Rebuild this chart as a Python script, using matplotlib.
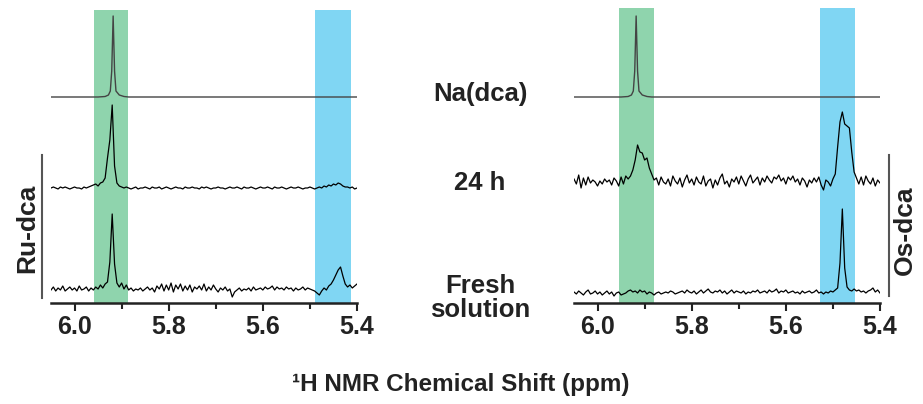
import numpy as np
import matplotlib
matplotlib.use("Agg")
import matplotlib.pyplot as plt
from matplotlib.lines import Line2D

plt.rcParams['font.family'] = ['Liberation Sans', 'DejaVu Sans']
plt.rcParams['font.weight'] = 'bold'

## data (intensities, arbitrary units)
# noisy spectra sampled from 6.05 to 5.40 ppm, 131 points
grid = np.linspace(6.05, 5.40, 131)

ru_fresh = [0, 3, -1, 2, 0, 4, -1, 1, 3, 0,
            2, -1, 4, 0, 1, 3, -1, 2, 0, 3,
            1, 5, 2, 6, 8, 28, 76, 26, 7, 3,
            7, 1, 5, 0, 2, -1, 1, 0, 2, -1,
            1, 3, 0, 2, -2, 4, 1, 6, -1, 5,
            0, 7, -2, 5, 1, 6, -1, 4, 0, 5,
            -2, 3, 1, 4, 0, 6, -1, 3, 0, 5,
            1, -2, 2, 0, 3, -1, 1, -7, -2, 0,
            2, -1, 1, 0, 2, -1, 3, 0, 1, 2,
            0, 3, 1, 2, 4, 0, 3, 1, 2, 0,
            3, 1, 2, -1, 2, 0, 1, 3, 0, 2,
            1, 0, -1, -3, -5, -1, 2, 0, 4, 6,
            10, 15, 20, 23, 14, 6, 3, 5, 2, 4,
            6]

ru_24h = [0, 1, 0, -1, 1, 0, 1, 0, -1, 0,
          1, 0, 0, -1, 1, 0, 1, 2, 3, 4,
          2, 5, 6, 10, 30, 48, 83, 22, 5, 2,
          1, 0, 1, 0, -1, 0, 1, -1, 0, 0,
          1, 0, -1, 1, 0, 0, 1, -1, 0, 1,
          0, -1, 0, 1, 0, 0, -1, 1, 0, 0,
          1, 0, 0, -1, 1, 0, 1, 0, -1, 0,
          0, 1, 0, 0, -1, 0, 1, 0, 0, 1,
          0, -1, 1, 0, 0, 1, 0, -1, 0, 1,
          0, 0, 1, 0, -1, 1, 0, 0, 1, 0,
          -1, 0, 1, 0, 0, 1, 0, -1, 0, 0,
          1, 0, -1, 0, 1, 0, 2, 1, 3, 2,
          4, 3, 5, 4, 2, 1, 1, 0, 1, -1,
          0]

os_24h = [3, -2, 7, -6, 4, -3, 5, -1, 2, 0,
          -4, 1, -2, 3, 0, 2, -3, 4, 1, -4,
          5, -2, 6, 3, 6, 12, 22, 37, 30, 29,
          22, 24, 14, 8, 2, 4, -3, 5, 0, -2,
          3, -4, 6, 1, -2, 4, -5, 2, 7, -1,
          3, -3, 5, 0, -2, 6, -4, 1, 3, -6,
          2, -3, 4, 8, -2, 1, -5, 3, 0, 5,
          -2, 6, 1, -4, 3, 7, -1, 2, 5, -3,
          4, 0, 6, 2, -1, 5, 3, 7, 1, 4,
          -2, 5, 2, 6, 0, 3, -3, 4, 1, -5,
          2, -1, 4, 0, 5, -3, -8, 2, 0, -4,
          3, 8, 35, 60, 70, 58, 56, 54, 30, 10,
          4, -2, 5, -3, 6, 1, -2, 4, -4, 2,
          -1]

os_fresh = [1, -1, 2, 0, -2, 1, 3, -1, 0, 2,
            -1, 1, -2, 0, 2, -1, 1, -3, 0, 1,
            -2, -1, 0, 2, 3, 1, 2, 0, 3, 1,
            2, -1, 1, 0, -2, 0, 1, -1, 0, 1,
            0, 2, 1, -1, 0, 1, 2, 0, 3, 1,
            0, 2, -1, 1, 3, 0, 2, 4, 1, 0,
            2, 1, 3, 0, 2, -1, 1, 3, 0, 2,
            1, 0, 2, -1, 1, 0, 2, 1, 3, 0,
            1, 2, 0, 3, 1, 2, 4, 0, 2, 1,
            3, 0, 1, 2, 0, 1, -1, 2, 0, 1,
            2, 0, 1, 3, 0, 1, -1, 1, 0, 2,
            1, 3, 5, 30, 84, 25, 6, 3, 2, 4,
            2, 3, 1, 2, 0, 2, 3, 5, 1, 3,
            0]

# Na(dca) reference: clean single line
na_ppm = [6.05, 5.95, 5.935, 5.928, 5.924, 5.921, 5.918, 5.915, 5.912, 5.905, 5.895, 5.885, 5.60, 5.40]
na_int = [0, 0, 0.5, 2, 6, 26, 81, 26, 6, 2, 0.5, 0, 0, 0]

# highlighted regions (ppm)
ru_green = (5.958, 5.886)
ru_blue = (5.489, 5.413)
os_green = (5.955, 5.881)
os_blue = (5.528, 5.453)

# stacking offsets
ru_offsets = {'na': 206, '24h': 115, 'fresh': 13}
os_offsets = {'na': 206, '24h': 121, 'fresh': 10}

green = '#8fd4ad'
blue = '#80d6f3'
ink = '#222222'

fig = plt.figure(figsize=(9.23, 4.04), dpi=100)
W, H = 923, 404

def panel(left_px, green_band, blue_band, fresh, h24, offs, band_top):
    ax = fig.add_axes([left_px / W, 101 / H, 306 / W, 295 / H])
    ax.axvspan(*green_band, ymax=band_top, color=green, lw=0, zorder=0)
    ax.axvspan(*blue_band, ymax=band_top, color=blue, lw=0, zorder=0)
    ax.plot(na_ppm, np.array(na_int) + offs['na'], color='#444444', lw=1.0)
    ax.plot(grid, np.array(h24) + offs['24h'], color='black', lw=0.9)
    ax.plot(grid, np.array(fresh) + offs['fresh'], color='black', lw=0.9)
    ax.set_xlim(6.05, 5.40)
    ax.set_ylim(0, 295)
    ax.set_yticks([])
    for s in ['top', 'left', 'right']:
        ax.spines[s].set_visible(False)
    ax.spines['bottom'].set_linewidth(1.8)
    ax.spines['bottom'].set_color(ink)
    ax.set_xticks([6.0, 5.8, 5.6, 5.4])
    ax.set_xticklabels(['6.0', '5.8', '5.6', '5.4'])
    ax.set_xticks([5.9, 5.7, 5.5], minor=True)
    ax.tick_params(axis='x', which='major', length=6, width=1.5, color=ink,
                   labelsize=18, pad=3, labelcolor=ink)
    ax.tick_params(axis='x', which='minor', length=4, width=1.5, color=ink)
    for t in ax.get_xticklabels():
        t.set_fontweight('bold')
    ax.patch.set_alpha(0)
    return ax

panel(51, ru_green, ru_blue, ru_fresh, ru_24h, ru_offsets, 0.993)
panel(574, os_green, os_blue, os_fresh, os_24h, os_offsets, 1.0)

# centre labels
fig.text(480 / W, 1 - 94 / H, 'Na(dca)', ha='center', va='center', fontsize=18.5, fontweight='bold', color=ink)
fig.text(480 / W, 1 - 183 / H, '24 h', ha='center', va='center', fontsize=18.5, fontweight='bold', color=ink)
fig.text(480 / W, 1 - 298 / H, 'Fresh\nsolution', ha='center', va='center', fontsize=18.5,
         fontweight='bold', color=ink, linespacing=1.05)

# side brackets
fig.add_artist(Line2D([42 / W, 42 / W], [1 - 155 / H, 1 - 298 / H], color='#555555', lw=1.5))
fig.add_artist(Line2D([889 / W, 889 / W], [1 - 155 / H, 1 - 296 / H], color='#555555', lw=1.5))
fig.text(27 / W, 1 - 228 / H, 'Ru-dca', rotation=90, ha='center', va='center', fontsize=19,
         fontweight='bold', color=ink)
fig.text(905 / W, 1 - 230 / H, 'Os-dca', rotation=90, ha='center', va='center', fontsize=19,
         fontweight='bold', color=ink)

fig.text(461 / W, 1 - 384 / H, '\u00b9H NMR Chemical Shift (ppm)', ha='center', va='center',
         fontsize=17.5, fontweight='bold', color=ink)

fig.savefig('out.png', dpi=100)
